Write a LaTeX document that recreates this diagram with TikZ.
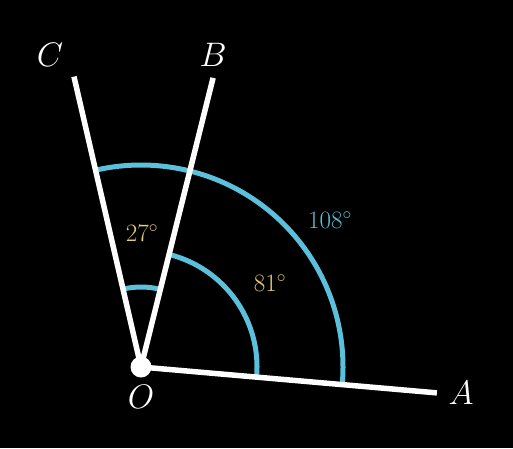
\RequirePackage{fix-cm}
\documentclass[tikz,border=0pt]{standalone}
\usepackage{tikz}
\usetikzlibrary{calc}
\definecolor{arcblue}{HTML}{5BC0DB}
\definecolor{labyellow}{HTML}{E6CD78}
\begin{document}
\begin{tikzpicture}[x=1pt,y=1pt,
  ray/.style={white,line width=5.5pt},
  anglearc/.style={arcblue,line width=5pt},
  ptlabel/.style={white,font=\fontsize{34}{34}\selectfont},
  anglabel/.style={font=\fontsize{25}{25}\selectfont}]
\fill[black] (0,0) rectangle (513,448);
\useasboundingbox (0,0) rectangle (513,448);
\coordinate (O) at (141,81);
\coordinate (A) at ($(O)+(-5:297)$);
\coordinate (B) at ($(O)+(76:298)$);
\coordinate (C) at ($(O)+(103:298)$);
\draw[anglearc] ($(O)+(-5:202)$) arc[start angle=-5,end angle=103,radius=202];
\draw[anglearc] ($(O)+(-5:116)$) arc[start angle=-5,end angle=76,radius=116];
\draw[anglearc] ($(O)+(76:80)$) arc[start angle=76,end angle=103,radius=80];
\draw[ray] (O) -- (A);
\draw[ray] (O) -- (B);
\draw[ray] (O) -- (C);
\fill[white] (O) circle (10.5);
\node[ptlabel] (lC) at (50,393) {$C$};
\node[ptlabel] (lB) at (213,393) {$B$};
\node[ptlabel] (lO) at (141,51) {$O$};
\node[ptlabel] (lA) at (461,55) {$A$};
\node[anglabel,text=arcblue] (l108) at (330,228) {$108^\circ$};
\node[anglabel,text=labyellow] (l81) at (270,165) {$81^\circ$};
\node[anglabel,text=labyellow] (l27) at (142,215) {$27^\circ$};
\end{tikzpicture}
\end{document}
